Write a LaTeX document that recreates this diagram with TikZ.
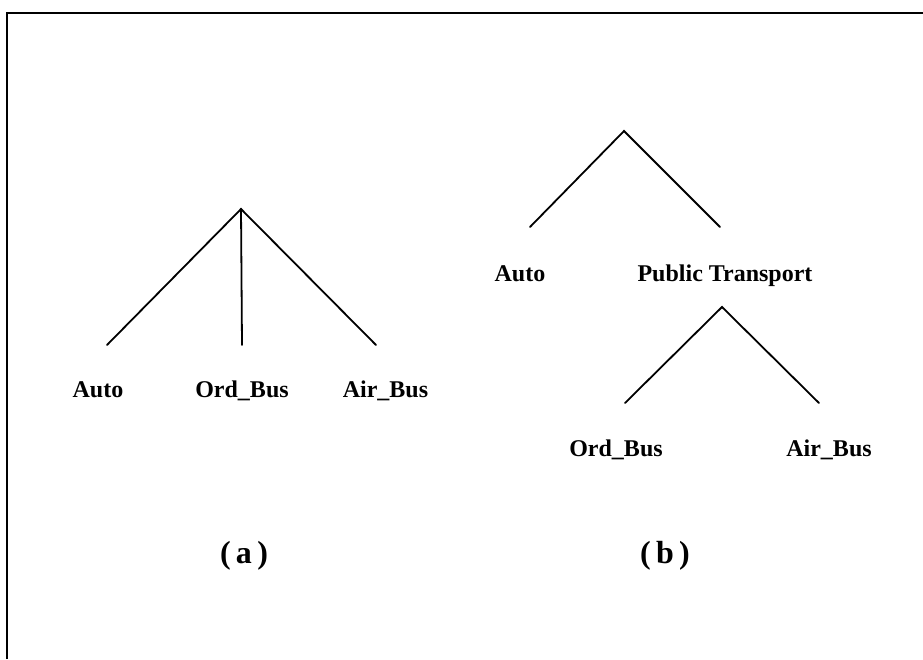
\documentclass[tikz,border=0pt]{standalone}
\usepackage{fontspec}
\setmainfont{Liberation Serif}
\begin{document}
\begin{tikzpicture}[x=1pt,y=-1pt,
  branch/.style={line width=1.8pt, line cap=round},
  leaf/.style={font=\fontsize{24}{28}\selectfont\bfseries, inner sep=0pt, anchor=base},
  caption/.style={font=\fontsize{32}{36}\selectfont\bfseries, inner sep=0pt, anchor=base}]
\useasboundingbox (0,0) rectangle (923,659);
% frame (top and left edges)
\draw[line width=2pt] (7,659) -- (7,13) -- (923,13);

% (a) single-level tree
\coordinate (aTop) at (241,209);
\coordinate (aL) at (107,345);
\coordinate (aM) at (242,345);
\coordinate (aR) at (376,345);
\draw[branch] (aL) -- (aTop) -- (aR);
\draw[branch] (aTop) -- (aM);
\node[leaf] (aAuto) at (98,397) {Auto};
\node[leaf] (aOrd) at (242,397) {Ord\_Bus};
\node[leaf] (aAir) at (385.5,397) {Air\_Bus};
\node[caption] (capA) at (244,563) {(\,a\,)};

% (b) nested tree
\coordinate (bTop) at (624,131);
\coordinate (bL) at (530,227);
\coordinate (bR) at (720,227);
\draw[branch] (bL) -- (bTop) -- (bR);
\node[leaf] (bAuto) at (520,281) {Auto};
\node[leaf] (bPub) at (725,281) {Public Transport};
\coordinate (cTop) at (722,307);
\coordinate (cL) at (625,403);
\coordinate (cR) at (819,403);
\draw[branch] (cL) -- (cTop) -- (cR);
\node[leaf] (bOrd) at (616,456) {Ord\_Bus};
\node[leaf] (bAir) at (829,456) {Air\_Bus};
\node[caption] (capB) at (665,563) {(\,b\,)};
\end{tikzpicture}
\end{document}
